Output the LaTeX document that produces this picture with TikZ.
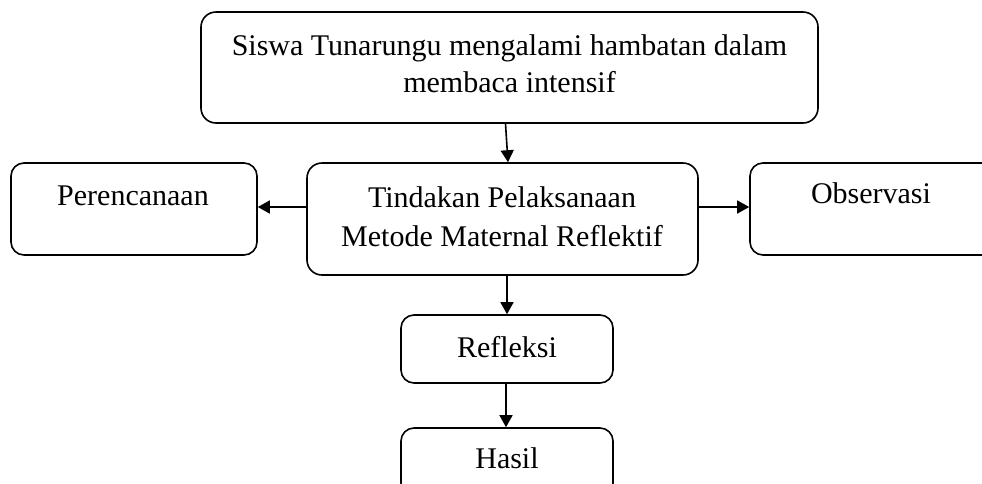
\documentclass[tikz,border=0pt]{standalone}
\usepackage{fontspec}
\setmainfont{Liberation Serif}
\usetikzlibrary{arrows.meta}
\tikzset{
  box/.style={draw=black, line width=1.6pt, rounded corners=13pt, inner sep=0pt, fill=white},
  txt/.style={anchor=base, inner sep=0pt, font=\fontsize{30}{38}\selectfont},
  arr/.style={line width=1.6pt, -{Triangle[length=12pt,width=13pt]}}
}
\begin{document}
\begin{tikzpicture}[x=1pt,y=-1pt]
\useasboundingbox (0,0) rectangle (982,483);
\clip (0,0) rectangle (982,483);
% boxes
\node[box, minimum width=617pt, minimum height=111pt, rounded corners=15pt] (top) at (509.5,67.5) {};
\node[box, minimum width=246pt, minimum height=92pt] (per) at (134,209) {};
\node[box, minimum width=391pt, minimum height=112pt, rounded corners=15pt] (mid) at (502.5,219) {};
\node[box, minimum width=246pt, minimum height=92pt] (obs) at (873,209) {};
\node[box, minimum width=212pt, minimum height=68pt] (ref) at (507,349) {};
\node[box, minimum width=212pt, minimum height=68pt] (has) at (507,462) {};
% texts
\node[txt] (t1) at (509.5,55) {Siswa Tunarungu mengalami hambatan dalam};
\node[txt] (t2) at (509.5,92) {membaca intensif};
\node[txt] (tper) at (133,205) {Perencanaan};
\node[txt] (tm1) at (502,207) {Tindakan Pelaksanaan};
\node[txt] (tm2) at (502,246) {Metode Maternal Reflektif};
\node[txt] (tobs) at (871,203) {Observasi};
\node[txt] (tref) at (507,357) {Refleksi};
\node[txt] (thas) at (507,468) {Hasil};
% connectors
\draw[arr] ([xshift=-4pt]top.south) -- ([xshift=5.5pt]mid.north);
\draw[arr] ([yshift=12pt]mid.west) -- ([yshift=2pt]per.east);
\draw[arr] ([yshift=12pt]mid.east) -- ([yshift=2pt]obs.west);
\draw[arr] (ref.north |- mid.south) -- (ref.north);
\draw[arr] ([xshift=-1pt]ref.south) -- ([xshift=-1pt]has.north);
\end{tikzpicture}
\end{document}
